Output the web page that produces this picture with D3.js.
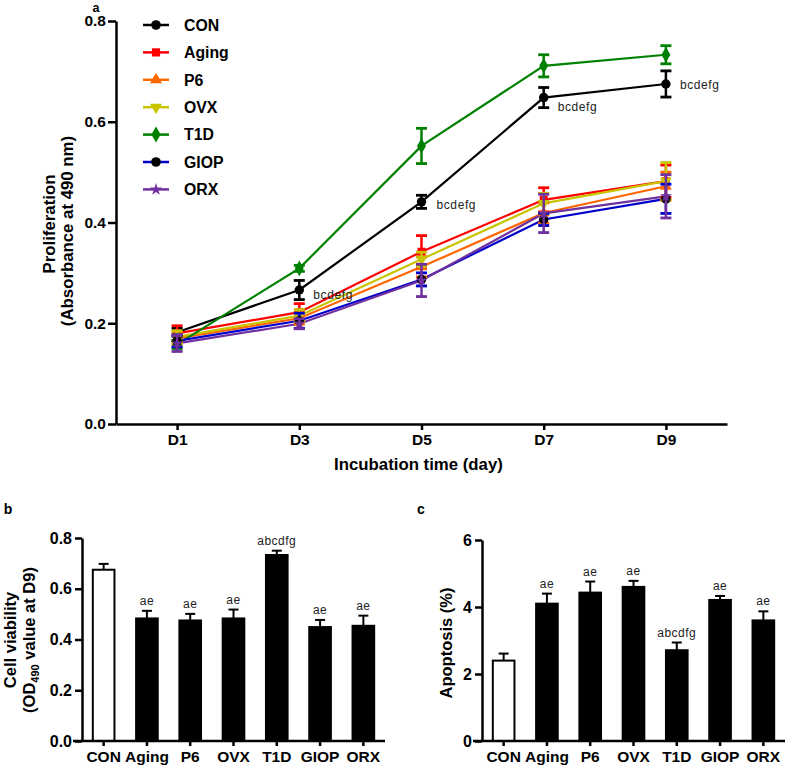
<!DOCTYPE html>
<html><head><meta charset="utf-8">
<script src="https://cdn.jsdelivr.net/npm/d3@7"></script>
<style>
body{margin:0;background:#fff;}
text{font-family:"Liberation Sans",Arial,sans-serif;}
</style></head>
<body><svg id="c" width="787" height="770"></svg>
<script>
// ---------- DATA ----------
const days = ["D1","D3","D5","D7","D9"];
const groups = ["CON","Aging","P6","OVX","T1D","GIOP","ORX"];
const colors = ["#000000","#ff0000","#ff6600","#c8c400","#008000","#0000cc","#7030a0"];
const conMean  = [0.182,0.266,0.441,0.648,0.675];
const conErr   = [0.008,0.019,0.013,0.020,0.026];
const agingMean= [0.180,0.222,0.342,0.445,0.482];
const agingErr = [0.015,0.017,0.032,0.024,0.032];
const p6Mean   = [0.170,0.210,0.312,0.419,0.472];
const p6Err    = [0.012,0.012,0.020,0.020,0.028];
const ovxMean  = [0.173,0.215,0.327,0.438,0.482];
const ovxErr   = [0.012,0.012,0.014,0.020,0.037];
const t1dMean  = [0.158,0.309,0.552,0.711,0.733];
const t1dErr   = [0.008,0.006,0.035,0.022,0.018];
const giopMean = [0.165,0.205,0.287,0.406,0.447];
const giopErr  = [0.012,0.015,0.013,0.012,0.029];
const orxMean  = [0.160,0.199,0.285,0.418,0.452];
const orxErr   = [0.016,0.010,0.032,0.038,0.043];
const conLabels = ["","bcdefg","bcdefg","bcdefg","bcdefg"];

const viability    = [0.675,0.483,0.475,0.483,0.733,0.449,0.454];
const viabilityErr = [0.023,0.030,0.026,0.035,0.017,0.028,0.040];
const viabilityLbl = ["","ae","ae","ae","abcdfg","ae","ae"];
const apoptosis    = [2.40,4.10,4.43,4.60,2.71,4.21,3.60];
const apoptosisErr = [0.21,0.30,0.33,0.18,0.23,0.12,0.27];
const apoptosisLbl = ["","ae","ae","ae","abcdfg","ae","ae"];

const ticksA = [0,0.2,0.4,0.6,0.8];
const ticksB = [0,0.2,0.4,0.6,0.8];
const ticksC = [0,2,4,6];

// ---------- BUILD ----------
const means = [conMean,agingMean,p6Mean,ovxMean,t1dMean,giopMean,orxMean];
const errs  = [conErr,agingErr,p6Err,ovxErr,t1dErr,giopErr,orxErr];
const symbols = [d3.symbolCircle,d3.symbolSquare,d3.symbolTriangle,d3.symbolTriangle,d3.symbolDiamond,d3.symbolCircle,d3.symbolStar];
const symSizes = [70,64,60,60,70,70,45];
const symRot = [0,0,0,180,0,0,0];
const markerFill = ["#000000","#ff0000","#ff6600","#c8c400","#008000","#000000","#7030a0"];
const series = groups.map((g,i)=>({name:g,color:colors[i],sym:symbols[i],size:symSizes[i],rot:symRot[i],fill:markerFill[i],
  pts:days.map((d,j)=>({day:d,v:means[i][j],e:errs[i][j]}))}));

const svg = d3.select("#c");
const bold = "bold";

function styleAxis(g, fs){
  g.selectAll("path.domain").attr("stroke","#000").attr("stroke-width",2.5);
  g.selectAll(".tick line").attr("stroke","#000").attr("stroke-width",2.5);
  g.selectAll(".tick text").attr("fill","#000").style("font-family","'Liberation Sans',Arial,sans-serif").style("font-weight","bold").style("font-size",fs+"px");
}

// ---------- PANEL A ----------
const xA = d3.scalePoint().domain(days).range([116,727]).padding(0.5);
const yA = d3.scaleLinear().domain([0,0.8]).range([424,21]);

const gA = svg.append("g");
const line = d3.line().x(d=>xA(d.day)).y(d=>yA(d.v));
series.forEach(s=>{
  gA.append("path").datum(s.pts).attr("d",line).attr("fill","none").attr("stroke",s.color).attr("stroke-width",2.2);
});
series.forEach(s=>{
  const g = gA.append("g");
  s.pts.forEach(p=>{
    const x = xA(p.day), y1 = yA(p.v+p.e), y2 = yA(p.v-p.e);
    g.append("line").attr("x1",x).attr("x2",x).attr("y1",y1).attr("y2",y2).attr("stroke",s.color).attr("stroke-width",2.5);
    [y1,y2].forEach(yy=>g.append("line").attr("x1",x-5.5).attr("x2",x+5.5).attr("y1",yy).attr("y2",yy).attr("stroke",s.color).attr("stroke-width",2.8));
    g.append("path").attr("d",d3.symbol().type(s.sym).size(s.size)())
      .attr("transform",`translate(${x},${yA(p.v)}) rotate(${s.rot})`).attr("fill",s.fill);
  });
});
const annDx = [14,14,15,14,14], annDy=[8,8.5,7,13,5];
conLabels.forEach((t,j)=>{
  if(!t) return;
  gA.append("text").attr("x",xA(days[j])+annDx[j]).attr("y",yA(conMean[j])+annDy[j]).text(t)
    .attr("font-size",12).attr("letter-spacing",0.6).attr("fill","#222");
});
const axA_y = gA.append("g").attr("transform","translate(116,0)")
  .call(d3.axisLeft(yA).tickValues(ticksA).tickFormat(d3.format(".1f")).tickSize(8).tickSizeOuter(0).tickPadding(2));
styleAxis(axA_y,15.5);
const axA_x = gA.append("g").attr("transform","translate(0,424)")
  .call(d3.axisBottom(xA).tickSize(6).tickSizeOuter(0).tickPadding(4));
styleAxis(axA_x,15.5);
gA.append("text").attr("x",418.5).attr("y",470).attr("text-anchor","middle").attr("font-weight",bold).attr("font-size",16.8).text("Incubation time (day)");
gA.append("text").attr("transform","translate(55,224) rotate(-90)").attr("text-anchor","middle").attr("font-weight",bold).attr("font-size",16.8).text("Proliferation");
gA.append("text").attr("transform","translate(73,231) rotate(-90)").attr("text-anchor","middle").attr("font-weight",bold).attr("font-size",16.8).text("(Absorbance at 490 nm)");
gA.append("text").attr("x",96).attr("y",11.5).attr("text-anchor","middle").attr("font-weight",bold).attr("font-size",12.5).text("a");
series.forEach((s,i)=>{
  const y = 25 + i*27.4;
  const g = gA.append("g");
  g.append("line").attr("x1",143).attr("x2",169).attr("y1",y).attr("y2",y).attr("stroke",s.color).attr("stroke-width",2.5);
  g.append("path").attr("d",d3.symbol().type(s.sym).size(s.size*1.05)()).attr("transform",`translate(156,${y}) rotate(${s.rot})`).attr("fill",s.fill);
  g.append("text").attr("x",184).attr("y",y+5.8).attr("font-weight",bold).attr("font-size",15.8).text(s.name);
});

// ---------- BAR PANELS ----------
function barPanel(x0, yScale, vals, errsB, lbls, ticks, fmt, titleLines, letter, letterX){
  const xs = d3.scaleBand().domain(groups).range([x0, x0+303]).paddingInner(0.5).paddingOuter(0.25);
  const g = svg.append("g");
  groups.forEach((gname,i)=>{
    const x = xs(gname), w = xs.bandwidth(), cx = x + w/2;
    const top = yScale(vals[i]), et = yScale(vals[i]+errsB[i]);
    g.append("line").attr("x1",cx).attr("x2",cx).attr("y1",top).attr("y2",et).attr("stroke","#000").attr("stroke-width",2);
    g.append("line").attr("x1",cx-5).attr("x2",cx+5).attr("y1",et).attr("y2",et).attr("stroke","#000").attr("stroke-width",2);
    g.append("rect").attr("x",x).attr("y",top).attr("width",w).attr("height",yScale(0)-top)
      .attr("fill",i===0?"#fff":"#000").attr("stroke","#000").attr("stroke-width",2);
    if(lbls[i]) g.append("text").attr("x",cx).attr("y",et-6).attr("text-anchor","middle").attr("font-size",12).attr("letter-spacing",0.5).attr("fill","#222").text(lbls[i]);
  });
  const ay = g.append("g").attr("transform",`translate(${x0},0)`)
    .call(d3.axisLeft(yScale).tickValues(ticks).tickFormat(fmt).tickSize(7).tickSizeOuter(0).tickPadding(3));
  styleAxis(ay,16);
  const ax = g.append("g").attr("transform",`translate(0,${yScale(0)})`)
    .call(d3.axisBottom(xs).tickSize(5).tickSizeOuter(0).tickPadding(5));
  styleAxis(ax,15.5);
  ax.selectAll("path.domain").attr("d",`M${x0-9},0H${x0+303}`);
  titleLines(g);
  g.append("text").attr("x",letterX).attr("y",514).attr("text-anchor","middle").attr("font-weight",bold).attr("font-size",14).text(letter);
}

const yB = d3.scaleLinear().domain([0,0.8]).range([741,538]);
barPanel(82, yB, viability, viabilityErr, viabilityLbl, ticksB, d3.format(".1f"), g=>{
  g.append("text").attr("transform","translate(16,640) rotate(-90)").attr("text-anchor","middle").attr("font-weight",bold).attr("font-size",16.5).text("Cell viability");
  const t = g.append("text").attr("transform","translate(35,640) rotate(-90)").attr("text-anchor","middle").attr("font-weight",bold).attr("font-size",16.5);
  t.append("tspan").text("(OD");
  t.append("tspan").attr("font-size",11).attr("dy",4).text("490");
  t.append("tspan").attr("dy",-4).text(" value at D9)");
}, "b", 8);

const yC = d3.scaleLinear().domain([0,6]).range([741,540]);
barPanel(482, yC, apoptosis, apoptosisErr, apoptosisLbl, ticksC, d3.format("d"), g=>{
  g.append("text").attr("transform","translate(452,643) rotate(-90)").attr("text-anchor","middle").attr("font-weight",bold).attr("font-size",16.5).text("Apoptosis (%)");
}, "c", 421);
</script></body></html>
